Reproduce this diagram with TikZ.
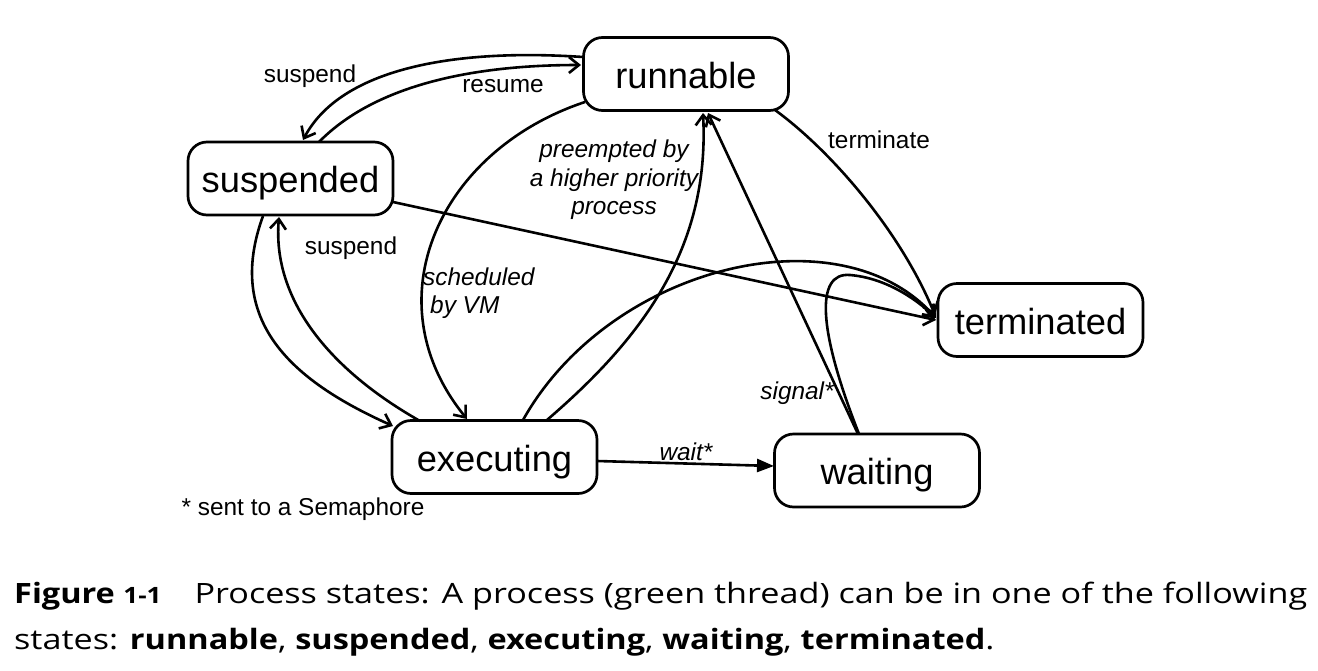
\documentclass[tikz,border=0pt]{standalone}
\usepackage{fontspec}
\setmainfont{Liberation Sans}
\newfontfamily\capfont[FakeStretch=1.22,BoldFeatures={FakeStretch=1.16}]{Open Sans}
\usetikzlibrary{arrows.meta,calc}
\begin{document}
\begin{tikzpicture}[x=1pt,y=-1pt,
  state/.style={draw,line width=2.7pt,rounded corners=19pt,minimum width=205pt,minimum height=73pt,inner sep=0pt,text height=30pt,text depth=2pt,font=\fontsize{36.3}{40}\selectfont},
  edge/.style={line width=2.6pt,-{Straight Barb[length=10pt,width=16pt]}},
  fedge/.style={line width=2.6pt,-{Triangle[length=17pt,width=13pt]}},
  lbl/.style={inner sep=0pt,font=\fontsize{24.4}{28.5}\selectfont},
  ilbl/.style={inner sep=0pt,font=\fontsize{24.4}{28.5}\selectfont\itshape}]
\useasboundingbox (0,0) rectangle (1318,670);
\fill[white] (0,0) rectangle (1318,670);
\node[state] (runnable) at (686,74) {runnable};
\node[state] (suspended) at (290.5,178.5) {suspended};
\node[state] (terminated) at (1040.5,320) {terminated};
\node[state] (executing) at (494.5,457) {executing};
\node[state] (waiting) at (877,470.5) {waiting};
% runnable -> suspended (suspend)
\draw[edge] ([shift={(-103,-17)}]runnable.center) .. controls (450,48) and (340,70) .. ([shift={(12.5,-38.5)}]suspended.center);
% suspended -> runnable (resume)
\draw[edge] ([shift={(28.5,-36.5)}]suspended.center) .. controls (370,90) and (460,65) .. ([shift={(-105,-9)}]runnable.center);
% runnable -> executing (scheduled by VM)
\draw[edge] ([shift={(-101,28)}]runnable.center) .. controls (440,150) and (370,300) .. ([shift={(-27.5,-38)}]executing.center);
% executing -> runnable (preempted)
\draw[edge] ([shift={(52.5,-37)}]executing.center) .. controls (640,340) and (710,250) .. ([shift={(17,39)}]runnable.center);
% waiting -> runnable (signal)
\draw[edge] ([shift={(-19,-36.5)}]waiting.center) -- ([shift={(22,39)}]runnable.center);
% runnable -> terminated
\draw[edge] ([shift={(89,36)}]runnable.center) .. controls (830,150) and (900,230) .. ([shift={(-105.5,-5)}]terminated.center);
% suspended -> terminated
\draw[edge] ([shift={(102.5,23.5)}]suspended.center) -- ([shift={(-104.5,0)}]terminated.center);
% executing -> terminated
\draw[edge] ([shift={(28.5,-37)}]executing.center) .. controls (610,265) and (840,210) .. ([shift={(-104.5,-2)}]terminated.center);
% waiting -> terminated (loop)
\draw[edge] ([shift={(-18,-36.5)}]waiting.center) .. controls (818,330) and (815,272) .. (850,275) .. controls (885,278) and (915,298) .. ([shift={(-104.5,-2)}]terminated.center);
% suspended -> executing
\draw[edge] ([shift={(-27.5,37.5)}]suspended.center) .. controls (225,320) and (290,380) .. ([shift={(-101.5,-31)}]executing.center);
% executing -> suspended (suspend)
\draw[edge] ([shift={(-74.5,-36)}]executing.center) .. controls (330,370) and (272,300) .. ([shift={(-11.5,38.5)}]suspended.center);
% executing -> waiting
\draw[fedge] ([shift={(102.5,4)}]executing.center) -- ([shift={(-103,-4.5)}]waiting.center);
% labels
\node[lbl] (l1) at (310,76) {suspend};
\node[lbl] (l2) at (503,86) {resume};
\node[ilbl,align=center] (l3) at (614,180) {preempted by\\a higher priority\\process};
\node[lbl] (l4) at (879,140) {terminate};
\node[lbl] (l5) at (351,248) {suspend};
\node[ilbl,align=left,anchor=west] (l6) at (423,293) {scheduled\\\hspace*{7pt}by VM};
\node[ilbl] (l7) at (797,393) {signal*};
\node[ilbl] (l8) at (686,452) {wait*};
\node[lbl] (l9) at (303,509) {* sent to a Semaphore};
% caption
\node[inner sep=0pt,anchor=base west,font=\capfont\fontsize{28}{34}\selectfont] (cap1) at (14,603) {\textbf{Figure {\fontsize{22.5}{28}\selectfont 1-1}}\hspace{33pt}Process states: A process (green thread) can be in one of the following};
\node[inner sep=0pt,anchor=base west,font=\capfont\fontsize{28}{34}\selectfont] (cap2) at (14,649) {states: \textbf{runnable}, \textbf{suspended}, \textbf{executing}, \textbf{waiting}, \textbf{terminated}.};
\end{tikzpicture}
\end{document}
